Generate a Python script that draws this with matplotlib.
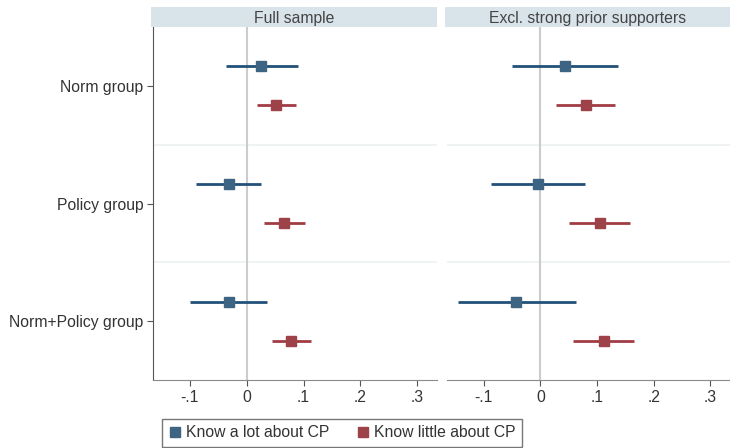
import matplotlib.pyplot as plt
from matplotlib.lines import Line2D

plt.rcParams['font.family'] = ['Liberation Sans', 'DejaVu Sans']

groups = ['Norm group', 'Policy group', 'Norm+Policy group']
panels = ['Full sample', 'Excl. strong prior supporters']
series = ['Know a lot about CP', 'Know little about CP']

# estimates and 95% CI per panel, group order as above
full_lot = [0.026, -0.032, -0.032]
full_lot_lo = [-0.037, -0.090, -0.100]
full_lot_hi = [0.090, 0.026, 0.035]
full_little = [0.051, 0.065, 0.078]
full_little_lo = [0.018, 0.031, 0.044]
full_little_hi = [0.086, 0.102, 0.113]

excl_lot = [0.043, -0.005, -0.043]
excl_lot_lo = [-0.051, -0.088, -0.145]
excl_lot_hi = [0.138, 0.078, 0.063]
excl_little = [0.080, 0.105, 0.112]
excl_little_lo = [0.028, 0.050, 0.057]
excl_little_hi = [0.132, 0.159, 0.166]

xticks = [-0.1, 0, 0.1, 0.2, 0.3]
xticklabels = ['-.1', '0', '.1', '.2', '.3']

blue_line, blue_mk = '#23507a', '#3d6483'
red_line, red_mk = '#a13c44', '#9e4249'

data = [
    [(full_lot, full_lot_lo, full_lot_hi), (full_little, full_little_lo, full_little_hi)],
    [(excl_lot, excl_lot_lo, excl_lot_hi), (excl_little, excl_little_lo, excl_little_hi)],
]

fig = plt.figure(figsize=(7.3, 4.48), dpi=100)
W, H = 730, 448
boxes = [(153, 437), (447, 730)]
top, bottom = 27, 380
strip_h = 20

for p, (x0, x1) in enumerate(boxes):
    ax = fig.add_axes([x0 / W, 1 - bottom / H, (x1 - x0) / W, (bottom - top) / H])
    ax.set_xlim(-0.165, 0.335)
    ax.set_ylim(3.5, 0.5)
    ax.axvline(0, color='#cccccc', lw=1.5, zorder=1)
    for yb in [1.5, 2.5]:
        ax.axhline(yb, color='#eef1f2', lw=1.2, zorder=0)
    offs = [-0.167, 0.167]
    cols = [(blue_line, blue_mk), (red_line, red_mk)]
    for s in range(2):
        est, lo, hi = data[p][s]
        ys = [i + 1 + offs[s] for i in range(3)]
        ax.hlines(ys, lo, hi, color=cols[s][0], lw=2.0, zorder=2)
        ax.plot(est, ys, 's', color=cols[s][1], ms=6.6, zorder=3, lw=0)
    for side in ['top', 'right']:
        ax.spines[side].set_visible(False)
    ax.spines['bottom'].set_color('#8a8a8a')
    ax.spines['left'].set_color('#555555')
    ax.set_xticks(xticks)
    ax.set_xticklabels(xticklabels)
    ax.tick_params(axis='x', length=4, color='#555555', labelsize=11.3,
                   labelcolor='#333333', pad=3)
    if p == 0:
        ax.set_yticks([1, 2, 3])
        ax.set_yticklabels(groups)
        ax.tick_params(axis='y', length=4, color='#555555', labelsize=11.3,
                       labelcolor='#333333', pad=3)
    else:
        ax.spines['left'].set_visible(False)
        ax.set_yticks([])
    # strip header
    sx = fig.add_axes([(x0 - 2) / W, 1 - top / H, (x1 - x0 + 2) / W, strip_h / H])
    sx.set_facecolor('#d9e4ea')
    sx.set_xticks([])
    sx.set_yticks([])
    for sp in sx.spines.values():
        sp.set_visible(False)
    sx.text(0.5, 0.45, panels[p], ha='center', va='center', fontsize=11.3,
            color='#444444', transform=sx.transAxes)

handles = [
    Line2D([], [], ls='none', marker='s', color=blue_mk, ms=6.5),
    Line2D([], [], ls='none', marker='s', color=red_mk, ms=6.5),
]
leg = fig.legend(handles, series, loc='upper left', ncol=2,
                 bbox_to_anchor=(162 / W, 1 - 419 / H), fontsize=11.3,
                 frameon=True, fancybox=False, edgecolor='#555555',
                 handletextpad=0.35, columnspacing=1.7, handlelength=0.8,
                 borderpad=0.4, borderaxespad=0)
leg.get_frame().set_linewidth(1.0)
for t in leg.get_texts():
    t.set_color('#333333')

fig.savefig('out.png', dpi=100)
